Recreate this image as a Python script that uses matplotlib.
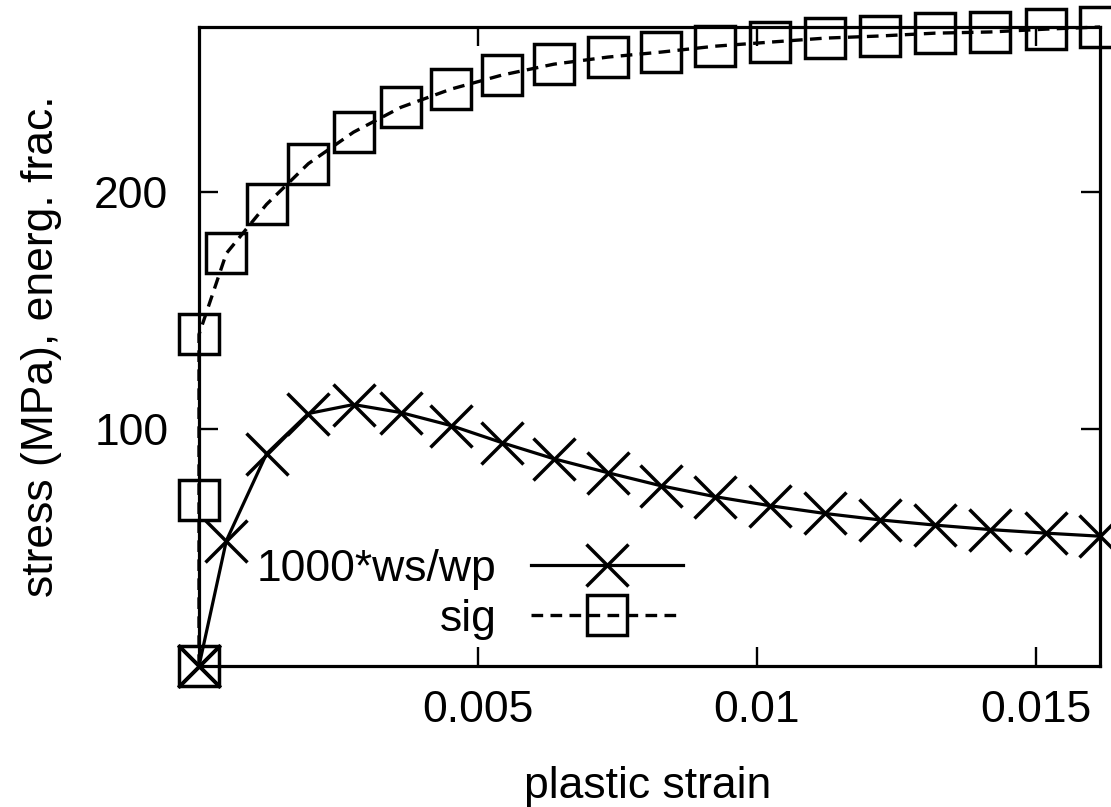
import matplotlib
matplotlib.use("Agg")
import matplotlib.pyplot as plt

# values
strain = [0.0, 0.0, 0.0, 0.00049, 0.00121, 0.00196, 0.00277, 0.00362, 0.00452,
          0.00543, 0.00636, 0.00733, 0.00828, 0.00925, 0.01023, 0.01122,
          0.01220, 0.01319, 0.01418, 0.01518, 0.01615]
sig = [0.0, 70.0, 140.0, 174.2, 194.9, 212.1, 225.4, 235.9, 243.6,
       249.5, 254.1, 257.1, 259.2, 261.7, 263.4, 265.1,
       266.0, 267.2, 267.7, 268.9, 269.8]
ws_wp = [0.0, 0.0, 0.0, 52.9, 89.6, 106.6, 110.4, 107.0, 101.5,
         94.3, 87.5, 81.6, 76.1, 71.5, 67.7, 64.4,
         61.7, 59.5, 57.6, 56.1, 54.8]

xtick_vals = [0.005, 0.01, 0.015]
xtick_labels = ['0.005', '0.01', '0.015']
ytick_vals = [100, 200]
ytick_labels = ['100', '200']

plt.rcParams['font.family'] = ['Liberation Sans', 'DejaVu Sans']
plt.rcParams['font.size'] = 32

W, H = 1111, 807
fig = plt.figure(figsize=(W / 100, H / 100), dpi=100)
# plot frame from pixel box 199..1100 x 27..666
ax = fig.add_axes([199 / W, 1 - 666 / H, 901 / W, 639 / H])

ax.plot(strain, ws_wp, color='black', lw=2.3, marker='x', ms=30, mew=2.5,
        clip_on=False, label='1000*ws/wp')
ax.plot(strain, sig, color='black', lw=2.4, ls=(0, (3.5, 2.2)), marker='s', ms=29,
        mew=2.5, mfc='none', mec='black', clip_on=False, label='sig')

ax.set_xlim(0, max(strain))
ax.set_ylim(0, max(sig))
ax.set_xticks(xtick_vals)
ax.set_xticklabels(xtick_labels)
ax.set_yticks(ytick_vals)
ax.set_yticklabels(ytick_labels)

for s in ax.spines.values():
    s.set_linewidth(2.3)
ax.tick_params(direction='in', length=14, width=1.7, top=True, right=True)
ax.tick_params(axis='x', pad=17)
ax.tick_params(axis='y', pad=22)

fig.text(648 / W, 1 - 798 / H, 'plastic strain', ha='center', va='baseline')
fig.text(42 / W, 1 - 346 / H, 'stress (MPa), energ. frac.', rotation=90,
         ha='center', va='center')

ax.legend(loc='upper right', bbox_to_anchor=(683 / W, 1 - 549 / H),
          bbox_transform=fig.transFigure, frameon=False, markerfirst=False,
          handlelength=3.43, handletextpad=0.77, labelspacing=0.2,
          borderpad=0, borderaxespad=0, numpoints=1)

fig.savefig('out.png', dpi=100)
